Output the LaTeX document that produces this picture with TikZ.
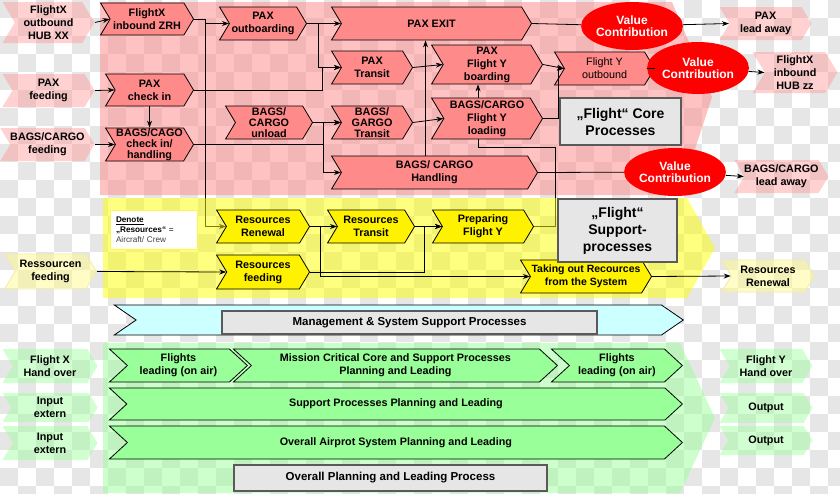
\documentclass[tikz,border=0pt]{standalone}
\usepackage{fontspec}
\setmainfont{Liberation Sans}
\usetikzlibrary{arrows.meta,calc,positioning,shapes.symbols,shapes.geometric}

\definecolor{chkgray}{HTML}{E6E6E6}
\definecolor{chevred}{HTML}{FF8A8A}
\definecolor{panred}{HTML}{FF9090}
\definecolor{panyel}{HTML}{FFFF00}
\definecolor{pangrn}{HTML}{99FF99}
\definecolor{chevgrn}{HTML}{99FF99}
\definecolor{cyanbar}{HTML}{CCFFFF}
\definecolor{boxfill}{HTML}{E6E6E6}
\definecolor{boxline}{HTML}{5A5A5A}

\pgfdeclarelayer{back}
\pgfdeclarelayer{under}
\pgfsetlayers{back,under,main}

\tikzset{
  sz/.style 2 args={minimum width=#1pt,minimum height=#2pt},
  chev/.style={signal,signal from=west,signal to=east,signal pointer angle=118,
    draw,line width=0.8pt,inner sep=0pt,anchor=east,align=center,
    font=\bfseries\fontsize{10.8}{13}\selectfont},
  corechev/.style={chev,fill=chevred},
  ychev/.style={chev,fill=yellow},
  gchev/.style={chev,fill=chevgrn,signal pointer angle=85},
  outred/.style={chev,draw=none,fill=red!45,fill opacity=.4,text opacity=1},
  outyel/.style={chev,draw=yellow!60!gray!40,fill=yellow!45,fill opacity=.5,text opacity=1},
  outgrn/.style={chev,draw=none,fill=pangrn,fill opacity=.45,text opacity=1},
  val/.style={ellipse,fill=red,text=white,inner sep=0pt,align=center,
    font=\bfseries\fontsize{12}{12.5}\selectfont},
  graybox/.style={draw=boxline,line width=2.5pt,fill=boxfill,inner sep=0pt,align=center,
    font=\bfseries\fontsize{11.5}{14}\selectfont},
  bigtext/.style={font=\bfseries\fontsize{14}{17}\selectfont},
  arr/.style={-{Stealth[length=7pt,width=5pt]},line width=0.8pt},
  line/.style={line width=0.8pt},
}

\begin{document}
\begin{tikzpicture}[x=1pt,y=-1pt]
\useasboundingbox (0,0) rectangle (840,493);
\clip (0,0) rectangle (840,493);

% background and panels
\begin{pgfonlayer}{back}
\foreach \i in {0,...,46}{\foreach \j in {0,...,27}{
  \pgfmathtruncatemacro\chk{mod(\i+\j,2)}
  \ifnum\chk=0 \fill[chkgray] (18*\i,18*\j) rectangle ++(18,18);\fi}}
\fill[panred,fill opacity=.55] (100,2) -- (672,2) -- (712,97) -- (680,195) -- (100,195) -- cycle;
\end{pgfonlayer}
\fill[panyel,fill opacity=.5] (103,198) -- (687,198) -- (715,248) -- (687,298) -- (103,298) -- cycle;
\fill[pangrn,fill opacity=.5] (103,343) -- (680,343) -- (715,418) -- (680,493) -- (103,493) -- cycle;

% flight core processes
\node[outred,sz={92}{41}] (hubxx) at (95,22.5) {FlightX\\outbound\\HUB XX};
\node[outred,sz={92}{33}] (pfeed) at (95,90.5) {PAX\\feeding};
\node[outred,sz={92}{33}] (bfeed) at (95,144.5) {BAGS/CARGO\\feeding};
\node[corechev,sz={93}{32}] (zrh) at (194,19) {FlightX\\inbound ZRH};
\node[corechev,sz={88}{32}] (pci) at (194,90) {PAX\\check in};
\node[corechev,sz={88}{33},font=\bfseries\fontsize{10.8}{11}\selectfont] (bci) at (194,144.5) {BAGS/CAGO\\check in/\\handling};
\node[corechev,sz={87}{33}] (pxo) at (307,23.5) {PAX\\outboarding};
\node[corechev,sz={200}{33}] (pexit) at (532,23.5) {PAX EXIT};
\node[corechev,sz={81}{33}] (ptr) at (413,67.5) {PAX\\Transit};
\node[corechev,sz={111}{39}] (pbo) at (543,64.5) {PAX\\Flight Y\\boarding};
\node[corechev,sz={87}{33},font=\bfseries\fontsize{10.8}{11}\selectfont] (bun) at (313,122.5) {BAGS/\\CARGO\\unload};
\node[corechev,sz={81}{33},font=\bfseries\fontsize{10.8}{11}\selectfont] (btr) at (413,122.5) {BAGS/\\GARGO\\Transit};
\node[corechev,sz={111}{41}] (blo) at (543,118.5) {BAGS/CARGO\\Flight Y\\loading};
\node[corechev,sz={206}{33}] (bha) at (538,172.5) {BAGS/ CARGO\\Handling};
\node[corechev,sz={100}{33},font=\fontsize{10.8}{13}\selectfont] (fyo) at (655,68.5) {Flight Y\\outbound};
\node[outred,sz={92}{33}] (plead) at (812,23.5) {PAX\\lead away};
\node[outred,sz={85}{41}] (hubzz) at (838,72.5) {FlightX\\inbound\\HUB zz};
\node[outred,sz={93}{33}] (blead) at (829,176.5) {BAGS/CARGO\\lead away};
\node[val,sz={95}{48}] (val1) at (632,26) {Value\\Contribution};
\node[val,sz={94}{52}] (val2) at (698,68) {Value\\Contribution};
\node[val,sz={95}{48}] (val3) at (675,172) {Value\\Contribution};
\node[graybox,bigtext,sz={121}{47}] (core) at (620.5,121.5) {„Flight“ Core\\Processes};

% flight support processes
\node[draw=yellow!70,fill=white,line width=0.6pt,sz={87}{39},inner sep=6pt,text width=75pt,align=left,
  font=\fontsize{8.2}{10}\selectfont] (denote) at (153.5,229.5)
  {\textbf{\underline{Denote}}\\\textbf{„Resources“} =\\\textcolor{darkgray}{Aircraft/ Crew}};
\node[ychev,sz={93}{33}] (rren) at (310,226.5) {Resources\\Renewal};
\node[ychev,sz={93}{34}] (rfeed) at (310,272) {Resources\\feeding};
\node[ychev,sz={87}{33}] (rtr) at (415,226.5) {Resources\\Transit};
\node[ychev,sz={101}{33}] (prep) at (534,226.5) {Preparing\\Flight Y};
\node[ychev,sz={131}{33},font=\bfseries\fontsize{10.5}{13}\selectfont] (takeout) at (652,276.5) {Taking out Recources\\from the System};
\node[graybox,bigtext,sz={119}{63}] (support) at (617.5,230.5) {„Flight“\\Support-\\processes};
\node[outyel,sz={92}{35}] (resfeed) at (97,271.5) {Ressourcen\\feeding};
\node[outyel,sz={93}{32}] (resren) at (815,276) {Resources\\Renewal};

% management and planning
\node[chev,signal pointer angle=69,fill=cyanbar,sz={569}{30}] (mgmtbar) at (684,320) {};
\node[graybox,sz={375}{23}] (mgmt) at (409.5,322.5) {Management \& System Support Processes};
\node[gchev,sz={138}{33}] (fl1) at (248,365.5) {Flights\\leading (on air)};
\node[gchev,sz={324}{33}] (mission) at (558,365.5) {Mission Critical Core and Support Processes\\Planning and Leading};
\node[gchev,sz={131}{33}] (fl2) at (683,365.5) {Flights\\leading (on air)};
\node[gchev,sz={573}{32}] (sup) at (683,404) {Support Processes Planning and Leading};
\node[gchev,sz={573}{33}] (ovr) at (683,442.5) {Overall Airprot System Planning and Leading};
\node[graybox,sz={313}{26}] (ovp) at (390.5,478) {Overall Planning and Leading Process};
\node[outgrn,sz={95}{34}] (fxh) at (98,366) {Flight X\\Hand over};
\node[outgrn,sz={95}{29}] (in1) at (98,407.5) {Input\\extern};
\node[outgrn,sz={95}{34}] (in2) at (98,443) {Input\\extern};
\node[outgrn,sz={93}{34}] (fyh) at (813,366) {Flight Y\\Hand over};
\node[outgrn,sz={93}{30}] (out1) at (813,408) {Output};
\node[outgrn,sz={93}{29}] (out2) at (813,440.5) {Output};

% connectors
\begin{pgfonlayer}{under}
\draw[arr] (zrh.east) -- ++(11,0) |- (rren.west);
\draw[line] (prep.east) -- ++(21,0) |- ($(blo.south)+(-9,8)$) -- ([xshift=-9pt]blo.south);
\end{pgfonlayer}
\draw[arr] (hubxx.east) -- (zrh.west);
\draw[arr] (pfeed.east) -- (pci.west);
\draw[arr] (bfeed.east) -- (bci.west);
\draw[arr] (zrh.east) -- ++(11,0) |- (pxo.west);
\draw[arr] (pxo.east) -- (pexit.west);
\draw[arr] (pxo.east) -- ++(11,0) |- (ptr.west);
\draw[arr] (pci.east) -- ++(128,0) |- (ptr.west);
\draw[arr] (pci.south) -- (bci.north);
\draw[arr] (ptr.east) -- (pbo.west);
\draw[arr] (bun.east) -- (btr.west);
\draw[arr] (bci.east) -- ++(129,0) |- (btr.west);
\draw[arr] (bci.east) -- ++(129,0) |- (bha.west);
\draw[arr] (btr.east) -- (blo.west);
\draw[arr] ([xshift=-9pt]blo.north) -- ([xshift=-9pt]pbo.south);
\draw[arr] ([xshift=-9pt]bha.north) -- ([xshift=-9pt]bha.north |- pexit.south);
\draw[arr] (pbo.east) -- (fyo.west);
\draw[arr] (blo.east) -- ++(15,0) |- (fyo.west);
\draw[line] (pexit.east) -- (val1);
\draw[arr] (val1) -- (plead.west);
\draw[line] (fyo.east) -- (val2);
\draw[arr] (val2) -- (hubzz.west);
\draw[line] (bha.east) -- (val3);
\draw[arr] (val3) -- (blead.west);
\draw[arr] (resfeed.east) -- (rfeed.west);
\draw[arr] (rren.east) -- (rtr.west);
\draw[arr] (rtr.east) -- (prep.west);
\draw[arr] (rfeed.east) -- ++(114,0) |- (prep.west);
\draw[arr] (rren.east) -- ++(10,0) |- (takeout.west);
\draw[arr] (takeout.east) -- (resren.west);
\end{tikzpicture}
\end{document}
